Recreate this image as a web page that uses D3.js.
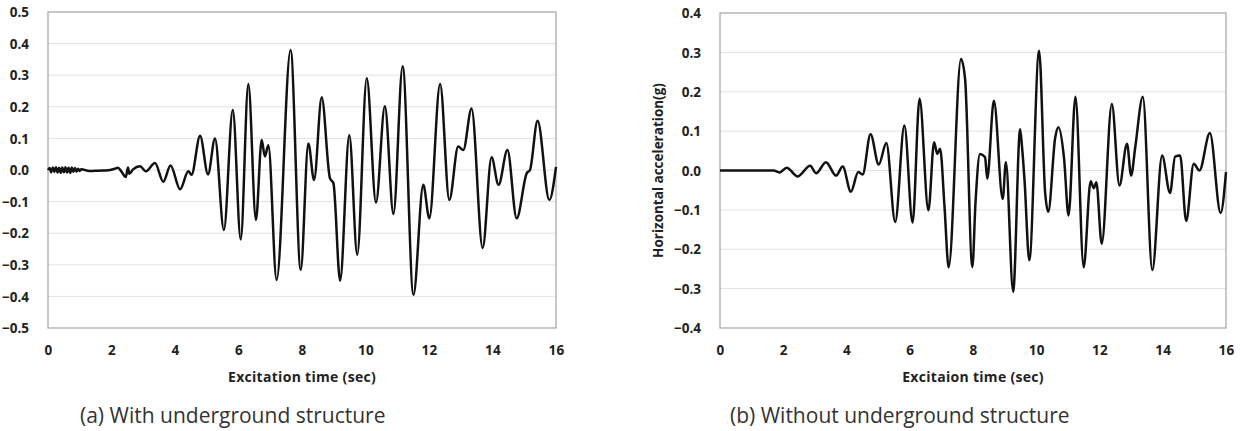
<!DOCTYPE html>
<html>
<head>
<meta charset="utf-8">
<script src="https://cdn.jsdelivr.net/npm/d3@7"></script>
<style>
	body { margin: 0; background: #fff; }
	svg { display: block; }
	text { font-family: "Open Sans", "Noto Sans", sans-serif; }
</style>
</head>
<body>
<svg class="display" width="1241" height="431"></svg>
<script>
// (a) with underground structure
const timeA = [0, 0.05, 0.1, 0.15, 0.2, 0.25, 0.3, 0.35, 0.4, 0.45, 0.5, 0.55, 0.6, 0.65, 0.7, 0.75, 0.8, 0.85, 0.9, 0.95, 1.0, 1.05,
	1.3, 1.6, 1.9, 2.1, 2.2, 2.32, 2.45, 2.52, 2.56, 2.68, 2.9, 3.08, 3.37, 3.63, 3.86, 4.16, 4.42, 4.52, 4.79, 5.04, 5.26,
	5.54, 5.82, 6.07, 6.31, 6.55, 6.73, 6.83, 6.94, 7.2, 7.64, 7.96, 8.2, 8.38, 8.62, 8.88, 8.99, 9.2, 9.49, 9.74, 10.04,
	10.33, 10.61, 10.88, 11.17, 11.51, 11.82, 12.01, 12.35, 12.64, 12.92, 13.08, 13.34, 13.69, 13.97, 14.19, 14.47, 14.76,
	15.08, 15.18, 15.42, 15.79, 16.0]
const accA = [0, 0.006, -0.007, 0.008, -0.006, 0.009, -0.008, 0.007, -0.009, 0.008, -0.007, 0.009, -0.008, 0.007, -0.009, 0.008, -0.006, 0.006, -0.005, 0.004, -0.003, 0.002,
	-0.003, -0.002, -0.001, 0.004, 0.007, -0.006, -0.022, 0.008, -0.012, 0.002, 0.012, -0.004, 0.022, -0.037, 0.014, -0.061, -0.004, -0.015, 0.108, -0.014, 0.100,
	-0.190, 0.190, -0.220, 0.272, -0.158, 0.095, 0.043, 0.078, -0.348, 0.380, -0.316, 0.084, -0.032, 0.230, -0.026, -0.042, -0.350, 0.110, -0.268, 0.290,
	-0.103, 0.202, -0.139, 0.328, -0.395, -0.047, -0.153, 0.272, -0.095, 0.074, 0.063, 0.195, -0.247, 0.040, -0.047, 0.063, -0.153,
	-0.010, 0.000, 0.156, -0.095, 0.010]

// (b) without underground structure
const timeB = [0, 1.69, 1.88, 2.11, 2.46, 2.85, 3.04, 3.35, 3.67, 3.88, 4.14, 4.37, 4.51, 4.76, 5.02, 5.26, 5.54, 5.83, 6.09, 6.31,
	6.59, 6.77, 6.87, 6.96, 7.1, 7.23, 7.62, 7.75, 7.98, 8.08, 8.22, 8.38, 8.45, 8.66, 8.94, 9.04, 9.27, 9.49, 9.55, 9.63, 9.78,
	10.09, 10.28, 10.38, 10.6, 10.7, 10.88, 11.02, 11.24, 11.5, 11.72, 11.82, 11.9, 12.07, 12.39, 12.63, 12.87, 13.0, 13.13,
	13.37, 13.67, 13.98, 14.23, 14.39, 14.55, 14.74, 14.98, 15.16, 15.49, 15.83, 16.0]
const accB = [0, 0, -0.005, 0.007, -0.015, 0.012, -0.007, 0.021, -0.013, 0.010, -0.054, -0.004, -0.010, 0.092, 0.015, 0.070, -0.131, 0.114, -0.132, 0.182,
	-0.101, 0.072, 0.042, 0.055, -0.093, -0.246, 0.283, 0.232, -0.245, -0.080, 0.042, 0.034, -0.021, 0.177, -0.072, 0.021, -0.308, 0.105, 0.060, -0.025, -0.228,
	0.304, -0.055, -0.105, 0.084, 0.110, 0.030, -0.114, 0.187, -0.246, -0.027, -0.045, -0.030, -0.186, 0.169, -0.038, 0.068, -0.013, 0.059,
	0.187, -0.253, 0.038, -0.057, 0.035, 0.038, -0.128, 0.017, 0.000, 0.095, -0.108, -0.004]

const xTicks = [0, 2, 4, 6, 8, 10, 12, 14, 16]
const yTicksA = [-0.5, -0.4, -0.3, -0.2, -0.1, 0, 0.1, 0.2, 0.3, 0.4, 0.5]
const yTicksB = [-0.4, -0.3, -0.2, -0.1, 0, 0.1, 0.2, 0.3, 0.4]

class TimeHistory {
	constructor(svg, box) {
		this.svg = svg
		this.box = box
	}
	setData(time, acc) {
		this.data = time.map((t, i) => ({ t: t, a: acc[i] }))
		return this
	}
	setTicks(yTicks) {
		this.yTicks = yTicks
		return this
	}
	setTexts(xTitle, yTitle, caption) {
		this.xTitle = xTitle
		this.yTitle = yTitle
		this.caption = caption
		return this
	}
	refresh() {
		const b = this.box
		const x = d3.scaleLinear().domain([0, 16]).range([b.left, b.right])
		const y = d3.scaleLinear().domain(d3.extent(this.yTicks)).range([b.bottom, b.top])
		const g = this.svg.append("g")

		g.append("g")
			.selectAll("line")
			.data(this.yTicks.slice(1, -1))
			.enter()
			.append("line")
			.attr("x1", b.left)
			.attr("x2", b.right)
			.attr("y1", d => y(d))
			.attr("y2", d => y(d))
			.attr("stroke", "#e2e2e2")
			.attr("stroke-width", 1)

		g.append("rect")
			.attr("x", b.left)
			.attr("y", y.range()[1])
			.attr("width", b.right - b.left)
			.attr("height", b.bottom - b.top)
			.attr("fill", "none")
			.attr("stroke", "#a3a3a3")
			.attr("stroke-width", 1.2)

		const yAxis = g.append("g")
			.attr("transform", `translate(${b.left},0)`)
			.call(d3.axisLeft(y).tickValues(this.yTicks).tickFormat(d3.format(".1f")).tickSize(0).tickPadding(19))
		const xAxis = g.append("g")
			.attr("transform", `translate(0,${b.bottom})`)
			.call(d3.axisBottom(x).tickValues(xTicks).tickSize(0).tickPadding(17))
		g.selectAll(".domain").remove()
		g.selectAll(".tick text")
			.attr("font-family", "'Open Sans', sans-serif")
			.attr("font-size", 13.5)
			.attr("font-weight", "bold")
			.attr("fill", "#222")
		yAxis.selectAll(".tick text").attr("dy", "0.35em")
		xAxis.selectAll(".tick text").attr("dy", "0.71em").attr("letter-spacing", 0.4)

		const line = d3.line()
			.x(d => x(d.t))
			.y(d => y(d.a))
			.curve(d3.curveMonotoneX)
		g.append("path")
			.datum(this.data)
			.attr("d", line)
			.attr("fill", "none")
			.attr("stroke", "#111")
			.attr("stroke-width", 2.5)
			.attr("stroke-linejoin", "round")

		g.append("text")
			.attr("x", (b.left + b.right) / 2)
			.attr("y", 382)
			.attr("text-anchor", "middle")
			.attr("font-size", 14)
			.attr("font-weight", "bold")
			.attr("letter-spacing", 0.3)
			.attr("fill", "#222")
			.text(this.xTitle)
		if (this.yTitle) {
			g.append("text")
				.attr("transform", `translate(${b.left - 57},${(b.top + b.bottom) / 2}) rotate(-90)`)
				.attr("text-anchor", "middle")
				.attr("font-size", 13.5)
				.attr("font-weight", "bold")
				.attr("fill", "#222")
				.text(this.yTitle)
		}
		g.append("text")
			.attr("x", b.captionX)
			.attr("y", 423)
			.attr("font-size", 21)
			.attr("fill", "#333")
			.text(this.caption)
		return this
	}
}

const svg = d3.select(".display")
svg.append("rect").attr("width", 1241).attr("height", 431).attr("fill", "#fff")

new TimeHistory(svg, { left: 48, right: 556, top: 12, bottom: 328, captionX: 80 })
	.setData(timeA, accA)
	.setTicks(yTicksA)
	.setTexts("Excitation time (sec)", null, "(a) With underground structure")
	.refresh()

new TimeHistory(svg, { left: 720, right: 1226, top: 13, bottom: 328, captionX: 730 })
	.setData(timeB, accB)
	.setTicks(yTicksB)
	.setTexts("Excitaion time (sec)", "Horizontal acceleration(g)", "(b) Without underground structure")
	.refresh()
</script>
</body>
</html>
